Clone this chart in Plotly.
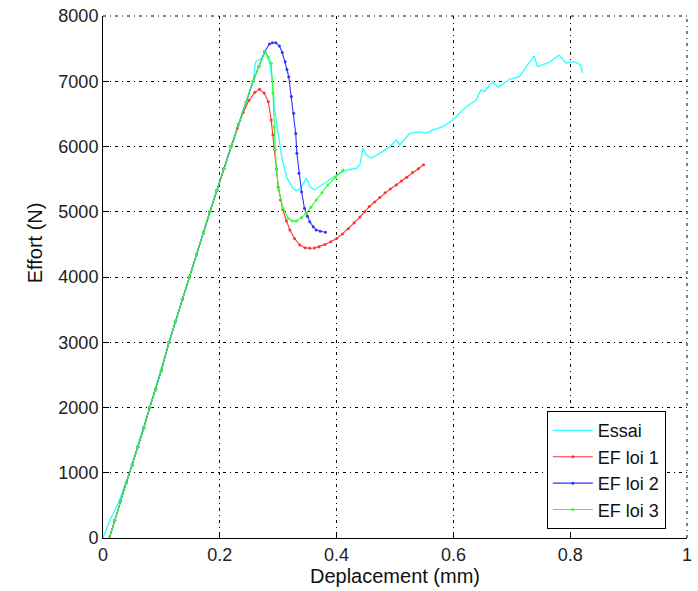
import plotly.graph_objects as go

# --- Data ---
essai_x = [0.0, 0.006, 0.013, 0.02, 0.03, 0.045, 0.080, 0.113, 0.148, 0.183, 0.219, 0.245, 0.257,
           0.2615, 0.266, 0.270, 0.279, 0.286, 0.290, 0.294, 0.300, 0.306, 0.314, 0.325, 0.331,
           0.336, 0.340, 0.344, 0.348, 0.351, 0.354, 0.362, 0.374, 0.388, 0.400, 0.417, 0.434,
           0.440, 0.442, 0.445, 0.451, 0.459, 0.474, 0.491, 0.502, 0.508, 0.525, 0.542, 0.553,
           0.565, 0.582, 0.599, 0.622, 0.639, 0.647, 0.653, 0.667, 0.677, 0.696, 0.713, 0.727,
           0.738, 0.744, 0.764, 0.781, 0.793, 0.807, 0.818, 0.821]
essai_y = [0, 130, 300, 420, 620, 1000, 2000, 3000, 4000, 5000, 6000, 6680, 7000,
           7300, 7326, 7340, 7455, 7250, 7000, 6560, 6200, 5844, 5537, 5360, 5323,
           5340, 5384, 5450, 5512, 5460, 5384, 5333, 5410, 5487, 5563, 5640, 5666,
           5720, 5844, 5972, 5870, 5820, 5896, 5997, 6100, 6023, 6202, 6227, 6202,
           6253, 6304, 6406, 6610, 6713, 6866, 6840, 6993, 6907, 7030, 7070, 7250,
           7390, 7225, 7290, 7400, 7280, 7300, 7250, 7125]

loi1_x = [0.011, 0.020, 0.030, 0.040, 0.050, 0.060, 0.070, 0.080, 0.090, 0.100, 0.113, 0.124,
          0.136, 0.148, 0.160, 0.172, 0.183, 0.195, 0.207, 0.219, 0.230, 0.240, 0.250, 0.260,
          0.268, 0.276, 0.283, 0.288, 0.291, 0.294, 0.297, 0.300, 0.304, 0.308, 0.314, 0.320,
          0.328, 0.337, 0.346, 0.354, 0.362, 0.370, 0.380, 0.390, 0.400, 0.410, 0.420, 0.430,
          0.440, 0.448, 0.456, 0.465, 0.474, 0.483, 0.492, 0.502, 0.511, 0.520, 0.530, 0.540,
          0.549]
loi1_y = [0, 270, 560, 850, 1120, 1400, 1690, 2000, 2280, 2570, 3000, 3320,
          3660, 4000, 4340, 4680, 5000, 5330, 5660, 6000, 6280, 6520, 6710, 6830,
          6876, 6820, 6687, 6406, 6180, 5950, 5660, 5380, 5180, 5030, 4860, 4720,
          4590, 4490, 4450, 4440, 4445, 4465, 4500, 4540, 4590, 4660, 4740, 4830,
          4920, 5000, 5080, 5150, 5220, 5290, 5350, 5410, 5470, 5530, 5600, 5660,
          5720]

loi2_x = [0.011, 0.020, 0.030, 0.040, 0.050, 0.060, 0.070, 0.080, 0.090, 0.100, 0.113, 0.124,
          0.136, 0.148, 0.160, 0.172, 0.183, 0.195, 0.207, 0.219, 0.232, 0.245, 0.257, 0.267,
          0.277, 0.285, 0.290, 0.296, 0.302, 0.307, 0.312, 0.315, 0.318, 0.3225, 0.3265, 0.330,
          0.332, 0.3356, 0.340, 0.345, 0.350, 0.354, 0.360, 0.365, 0.372, 0.381]
loi2_y = [0, 270, 560, 850, 1120, 1400, 1690, 2000, 2280, 2570, 3000, 3320,
          3660, 4000, 4340, 4680, 5000, 5330, 5660, 6000, 6340, 6680, 7000, 7230,
          7455, 7570, 7590, 7590, 7540, 7440, 7300, 7180, 7070, 6765, 6510, 6200,
          5895, 5590, 5307, 5053, 4930, 4848, 4770, 4720, 4700, 4685]

loi3_x = [0.011, 0.020, 0.030, 0.040, 0.050, 0.060, 0.070, 0.080, 0.090, 0.100, 0.113, 0.124,
          0.136, 0.148, 0.160, 0.172, 0.183, 0.195, 0.207, 0.219, 0.232, 0.245, 0.257, 0.267,
          0.277, 0.283, 0.288, 0.291, 0.293, 0.295, 0.297, 0.301, 0.308, 0.317, 0.324, 0.331,
          0.340, 0.348, 0.356, 0.365, 0.375, 0.385, 0.398, 0.411]
loi3_y = [0, 270, 560, 850, 1120, 1400, 1690, 2000, 2280, 2570, 3000, 3320,
          3660, 4000, 4340, 4680, 5000, 5330, 5660, 6000, 6340, 6680, 7000, 7230,
          7455, 7370, 7275, 6815, 6300, 5946, 5640, 5333, 5053, 4900, 4860, 4858,
          4910, 4976, 5070, 5180, 5290, 5410, 5530, 5640]

x_ticks = [0, 0.2, 0.4, 0.6, 0.8, 1]
x_ticklabels = ["0", "0.2", "0.4", "0.6", "0.8", "1"]
y_ticks = [0, 1000, 2000, 3000, 4000, 5000, 6000, 7000, 8000]
y_ticklabels = ["0", "1000", "2000", "3000", "4000", "5000", "6000", "7000", "8000"]

FONT = "Liberation Sans, Arial, sans-serif"
GRID_DASH = "3px,4px,1px,4px"

fig = go.Figure()
fig.add_trace(go.Scatter(x=essai_x, y=essai_y, mode="lines", name="Essai",
                         line=dict(color="#33FFFF", width=1.4)))
fig.add_trace(go.Scatter(x=loi1_x, y=loi1_y, mode="lines+markers", name="EF loi 1",
                         line=dict(color="#FF3333", width=1.1),
                         marker=dict(color="#FF3333", size=3)))
fig.add_trace(go.Scatter(x=loi2_x, y=loi2_y, mode="lines+markers", name="EF loi 2",
                         line=dict(color="#3333FF", width=1.1),
                         marker=dict(color="#3333FF", size=3)))
fig.add_trace(go.Scatter(x=loi3_x, y=loi3_y, mode="lines+markers", name="EF loi 3",
                         line=dict(color="#33FF33", width=1.1),
                         marker=dict(color="#33FF33", size=3)))

grid_common = dict(showgrid=True, gridcolor="black", gridwidth=1, griddash=GRID_DASH,
                   showline=True, linecolor="black", linewidth=1, mirror=False,
                   ticks="inside", ticklen=6, tickcolor="black", tickwidth=1,
                   zeroline=False, automargin=False,
                   tickfont=dict(family=FONT, size=18, color="#222222"))

fig.update_xaxes(range=[0, 1], tickvals=x_ticks, ticktext=x_ticklabels,
                 title=dict(text="Deplacement (mm)", font=dict(family=FONT, size=20, color="#111111"),
                            standoff=2),
                 **grid_common)
fig.update_yaxes(range=[0, 8000], tickvals=y_ticks, ticktext=y_ticklabels,
                 **grid_common)

# dotted grid lines on the top and right edges (no solid box there)
fig.add_shape(type="line", xref="paper", yref="paper", x0=0, x1=1, y0=1, y1=1,
              line=dict(color="black", width=1, dash=GRID_DASH), layer="below")
fig.add_shape(type="line", xref="paper", yref="paper", x0=1, x1=1, y0=0, y1=1,
              line=dict(color="black", width=1, dash=GRID_DASH), layer="below")

fig.add_annotation(text="Effort (N)", xref="paper", yref="paper", x=-0.116, y=0.565,
                   textangle=-90, showarrow=False, xanchor="center", yanchor="middle",
                   font=dict(family=FONT, size=20, color="#111111"))

fig.update_layout(
    width=698, height=591,
    margin=dict(l=103, r=11, t=16, b=53),
    plot_bgcolor="white", paper_bgcolor="white",
    showlegend=True,
    legend=dict(x=0.760, y=0.017, xanchor="left", yanchor="bottom",
                bgcolor="white", bordercolor="black", borderwidth=1,
                font=dict(family=FONT, size=18, color="#111111"),
                tracegroupgap=0, itemwidth=40),
)

fig.write_html("out.html", config={"displayModeBar": False},
               post_script="document.body.style.margin='0';")
